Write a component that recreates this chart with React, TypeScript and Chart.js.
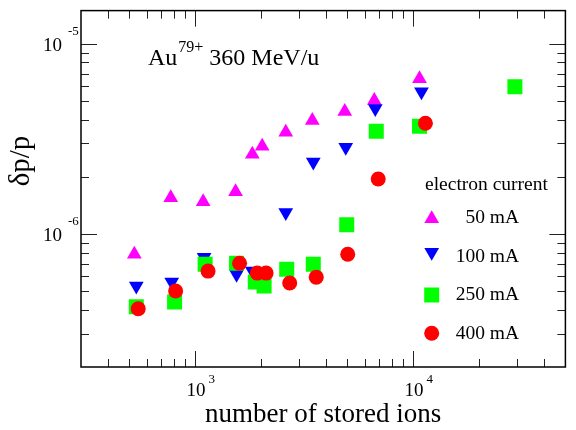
import React, { useEffect, useRef } from 'react';
import { Chart, registerables } from 'chart.js';

Chart.register(...registerables);

// ---- data (number of stored ions vs. momentum spread) ----
const ions50 = [527, 774, 1090, 1535, 1832, 2033, 2608, 3452, 4863, 6643, 10711];
const dpp50 = [7.84e-7, 1.554e-6, 1.481e-6, 1.67e-6, 2.636e-6, 2.902e-6, 3.434e-6, 3.966e-6, 4.418e-6, 5.043e-6, 6.57e-6];

const ions100 = [538, 782, 1101, 1551, 1832, 2608, 3488, 4914, 6713, 10934];
const dpp100 = [5.34e-7, 5.6e-7, 7.56e-7, 6.16e-7, 6.39e-7, 1.298e-6, 2.394e-6, 2.868e-6, 4.58e-6, 5.62e-6];

const ions250 = [538, 806, 1113, 1551, 1890, 2075, 2635, 3488, 4966, 6784, 10711, 29330];
const dpp250 = [4.15e-7, 4.4e-7, 6.95e-7, 7.03e-7, 5.6e-7, 5.34e-7, 6.54e-7, 6.95e-7, 1.12e-6, 3.48e-6, 3.69e-6, 5.97e-6];

const ions400 = [549, 815, 1148, 1601, 1930, 2119, 2719, 3599, 5018, 6925, 11400];
const dpp400 = [4.05e-7, 5.02e-7, 6.39e-7, 7.03e-7, 6.24e-7, 6.24e-7, 5.53e-7, 5.94e-7, 7.84e-7, 1.95e-6, 3.83e-6];

const seriesLabels = ['50 mA', '100 mA', '250 mA', '400 mA'];
const seriesColors = ['#ff00ff', '#0000ff', '#00ff00', '#ff0000'];

// ---- axes ----
const xMin = 300;
const xMax = 50000;
const yMin = 2e-7;
const yMax = 1.5e-5;
const xMajor = [1000, 10000];
const xMajorExp = ['3', '4'];
const yMajor = [1e-6, 1e-5];
const yMajorExp = ['-6', '-5'];
const xMinor = [400, 500, 600, 700, 800, 900, 2000, 3000, 4000, 5000, 6000, 7000, 8000, 9000, 20000, 30000, 40000];
const yMinor = [3e-7, 4e-7, 5e-7, 6e-7, 7e-7, 8e-7, 9e-7, 2e-6, 3e-6, 4e-6, 5e-6, 6e-6, 7e-6, 8e-6, 9e-6];

const xTitle = 'number of stored ions';
const yTitle = 'δp/p';
const titleBase = 'Au';
const titleSup = '79+';
const titleRest = ' 360 MeV/u';
const legendTitle = 'electron current';

const SERIF = "'Liberation Serif', 'Times New Roman', serif";

const R_TRI = 8.5;
const R_RECT = 10.6;
const R_CIRC = 7.5;

function drawSymbol(ctx: CanvasRenderingContext2D, kind: number, x: number, y: number) {
  ctx.fillStyle = seriesColors[kind];
  ctx.beginPath();
  if (kind === 0 || kind === 1) {
    const s = kind === 0 ? 1 : -1;
    const r = R_TRI;
    ctx.moveTo(x, y - s * r);
    ctx.lineTo(x + 0.866 * r, y + s * 0.5 * r);
    ctx.lineTo(x - 0.866 * r, y + s * 0.5 * r);
    ctx.closePath();
  } else if (kind === 2) {
    const h = R_RECT * Math.SQRT1_2;
    ctx.rect(x - h, y - h, 2 * h, 2 * h);
  } else {
    ctx.arc(x, y, R_CIRC, 0, Math.PI * 2);
  }
  ctx.fill();
}

const overlay = {
  id: 'overlay',
  beforeDatasetsDraw(chart: any) {
    const { ctx, chartArea: a, scales } = chart;
    const xs = scales.x;
    const ys = scales.y;
    ctx.save();
    ctx.strokeStyle = '#222';
    ctx.lineWidth = 1;
    const vt = (v: number, len: number) => {
      const px = Math.round(xs.getPixelForValue(v)) + 0.5;
      ctx.beginPath();
      ctx.moveTo(px, a.bottom);
      ctx.lineTo(px, a.bottom - len);
      ctx.moveTo(px, a.top);
      ctx.lineTo(px, a.top + len);
      ctx.stroke();
    };
    const ht = (v: number, len: number) => {
      const py = Math.round(ys.getPixelForValue(v)) + 0.5;
      ctx.beginPath();
      ctx.moveTo(a.left, py);
      ctx.lineTo(a.left + len, py);
      ctx.moveTo(a.right, py);
      ctx.lineTo(a.right - len, py);
      ctx.stroke();
    };
    xMinor.forEach((v) => vt(v, 8));
    xMajor.forEach((v) => vt(v, 16));
    yMinor.forEach((v) => ht(v, 8));
    yMajor.forEach((v) => ht(v, 16));
    ctx.strokeStyle = '#000';
    ctx.lineWidth = 1.5;
    ctx.strokeRect(a.left, a.top, a.right - a.left, a.bottom - a.top);
    ctx.restore();
  },
  afterDraw(chart: any) {
    const { ctx, chartArea: a, scales } = chart;
    const xs = scales.x;
    const ys = scales.y;
    ctx.save();
    ctx.fillStyle = '#000';
    ctx.textBaseline = 'alphabetic';

    // x tick labels
    xMajor.forEach((v, i) => {
      const px = xs.getPixelForValue(v);
      ctx.font = `19px ${SERIF}`;
      ctx.textAlign = 'center';
      ctx.fillText('10', px + 1, a.bottom + 29);
      const w = ctx.measureText('10').width;
      ctx.font = `13px ${SERIF}`;
      ctx.textAlign = 'left';
      ctx.fillText(xMajorExp[i], px + 1 + w / 2 + 3, a.bottom + 16);
    });

    // y tick labels
    yMajor.forEach((v, i) => {
      const py = ys.getPixelForValue(v);
      ctx.font = `19px ${SERIF}`;
      ctx.textAlign = 'right';
      ctx.fillText('10', 62, py + 6.5);
      ctx.font = `13px ${SERIF}`;
      ctx.textAlign = 'left';
      ctx.fillText(yMajorExp[i], 68, py - 9);
    });

    // axis titles
    ctx.font = `27px ${SERIF}`;
    ctx.textAlign = 'center';
    ctx.fillText(xTitle, (a.left + a.right) / 2, 422);
    ctx.save();
    ctx.font = `29px ${SERIF}`;
    ctx.translate(29, 161);
    ctx.rotate(-Math.PI / 2);
    ctx.fillText(yTitle, 0, 0);
    ctx.restore();

    // in-plot title
    ctx.textAlign = 'left';
    ctx.font = `24px ${SERIF}`;
    let tx = 148;
    ctx.fillText(titleBase, tx, 65);
    tx += ctx.measureText(titleBase).width + 1;
    ctx.font = `16px ${SERIF}`;
    ctx.fillText(titleSup, tx, 52);
    tx += ctx.measureText(titleSup).width;
    ctx.font = `24px ${SERIF}`;
    ctx.fillText(titleRest, tx, 65);

    // legend
    ctx.font = `19.5px ${SERIF}`;
    ctx.textAlign = 'left';
    ctx.fillText(legendTitle, 425, 190);
    const symY = [218.8, 252.2, 295, 333.3];
    const txtY = [223, 262, 300, 339];
    seriesLabels.forEach((lab, i) => {
      drawSymbol(ctx, i, 431.7, symY[i]);
      ctx.fillStyle = '#000';
      ctx.textAlign = 'right';
      ctx.fillText(lab, 519, txtY[i]);
    });
    ctx.restore();
  },
};

function pts(xs: number[], ys: number[]) {
  return xs.map((x, i) => ({ x, y: ys[i] }));
}

export default function App() {
  const ref = useRef<HTMLCanvasElement>(null);
  useEffect(() => {
    if (!ref.current) return;
    const common = { showLine: false, borderWidth: 0, pointBorderWidth: 0, pointHoverRadius: 0 };
    const chart = new Chart(ref.current, {
      type: 'scatter',
      data: {
        datasets: [
          { ...common, label: seriesLabels[0], data: pts(ions50, dpp50), pointStyle: 'triangle', pointRadius: R_TRI, backgroundColor: seriesColors[0], borderColor: seriesColors[0], order: 4 },
          { ...common, label: seriesLabels[1], data: pts(ions100, dpp100), pointStyle: 'triangle', rotation: 180, pointRotation: 180, pointRadius: R_TRI, backgroundColor: seriesColors[1], borderColor: seriesColors[1], order: 3 },
          { ...common, label: seriesLabels[2], data: pts(ions250, dpp250), pointStyle: 'rect', pointRadius: R_RECT, backgroundColor: seriesColors[2], borderColor: seriesColors[2], order: 2 },
          { ...common, label: seriesLabels[3], data: pts(ions400, dpp400), pointStyle: 'circle', pointRadius: R_CIRC, backgroundColor: seriesColors[3], borderColor: seriesColors[3], order: 1 },
        ],
      } as any,
      options: {
        animation: false,
        responsive: false,
        devicePixelRatio: 1,
        events: [],
        layout: { padding: { left: 81, right: 3, top: 7, bottom: 63 } },
        plugins: { legend: { display: false }, tooltip: { enabled: false } },
        scales: {
          x: { type: 'logarithmic', min: xMin, max: xMax, display: false },
          y: { type: 'logarithmic', min: yMin, max: yMax, display: false },
        },
      } as any,
      plugins: [overlay],
    });
    return () => chart.destroy();
  }, []);
  return (
    <div style={{ position: 'fixed', left: 0, top: 0, width: 576, height: 430, background: '#fff' }}>
      <canvas ref={ref} width={576} height={430} style={{ display: 'block' }} />
    </div>
  );
}
